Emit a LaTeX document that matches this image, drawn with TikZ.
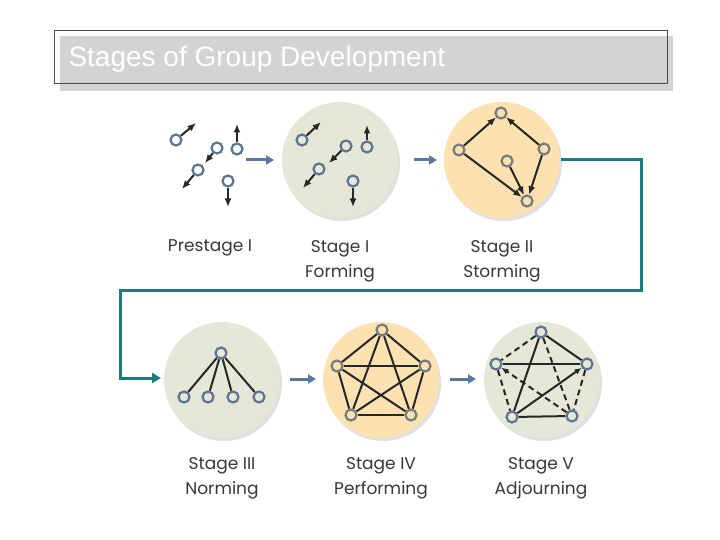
\documentclass[tikz,border=0pt]{standalone}
\usepackage{fontspec}
\setmainfont{Liberation Sans}
\newfontfamily\stagefont{Poppins}
\usepackage{tikz}
\usetikzlibrary{arrows.meta}
\definecolor{sage}{HTML}{E7E7D7}
\definecolor{peach}{HTML}{FCE2B0}
\definecolor{dotblue}{HTML}{5D7592}
\definecolor{dotgray}{HTML}{767B7E}
\definecolor{flowblue}{HTML}{5878A2}
\definecolor{teal}{HTML}{1E7B7C}
\definecolor{titlegray}{HTML}{D3D3D3}

\begin{document}
\begin{tikzpicture}[x=1pt,y=-1pt,
  member/.style={circle,draw=dotblue,line width=2.2pt,fill=white,minimum size=11pt,inner sep=0pt},
  grey member/.style={member,draw=dotgray},
  move/.style={line width=2pt,black!85,-{Latex[length=8.5pt,width=7pt]}},
  tie/.style={line width=2pt,black!85},
  loose/.style={tie,dash pattern=on 6pt off 4pt},
  flow/.style={line width=3pt,flowblue,-{Triangle[length=8pt,width=9pt]}},
  stagelabel/.style={align=center,font=\stagefont\fontsize{17}{25}\selectfont,text=black!78}]
\useasboundingbox (0,0) rectangle (720,540);
\fill [titlegray] (60,36) rectangle (673,91);
\draw [black!70,line width=1pt] (54,31) rectangle (667,84);
\node [anchor=base west,text=white,font=\fontsize{28}{30}\selectfont] (title) at (65,67) {Stages of Group Development};

\fill [black,opacity=0.12] (342,163) circle (58pt);
\fill [black,opacity=0.12] (504,163) circle (58pt);
\fill [black,opacity=0.12] (224,383) circle (58pt);
\fill [black,opacity=0.12] (383,383) circle (58pt);
\fill [black,opacity=0.12] (544,383) circle (58pt);
\fill [sage] (340,160) circle (58pt);
\fill [peach] (502,160) circle (58pt);
\fill [sage] (222,380) circle (58pt);
\fill [peach] (381,380) circle (58pt);
\fill [sage] (542,380) circle (58pt);

\node [member] (a1) at (176,140) {};
\node [member] (a2) at (217,148) {};
\node [member] (a3) at (198,170) {};
\node [member] (a4) at (237,149) {};
\node [member] (a5) at (228,181) {};
\coordinate (a1e) at (196,123);
\coordinate (a2e) at (205,163);
\coordinate (a3e) at (182,189);
\coordinate (a4e) at (237,124);
\coordinate (a5e) at (228,207);
\draw [move] (a1) -- (a1e);
\draw [move] (a2) -- (a2e);
\draw [move] (a3) -- (a3e);
\draw [move] (a4) -- (a4e);
\draw [move] (a5) -- (a5e);

\node [member,fill=sage] (b1) at (302,140) {};
\node [member,fill=sage] (b2) at (346,146) {};
\node [member,fill=sage] (b3) at (319,169) {};
\node [member,fill=sage] (b4) at (367,147) {};
\node [member,fill=sage] (b5) at (353,181) {};
\coordinate (b1e) at (321,122);
\coordinate (b2e) at (329,163);
\coordinate (b3e) at (303,188);
\coordinate (b4e) at (367,125);
\coordinate (b5e) at (353,207);
\draw [move] (b1) -- (b1e);
\draw [move] (b2) -- (b2e);
\draw [move] (b3) -- (b3e);
\draw [move] (b4) -- (b4e);
\draw [move] (b5) -- (b5e);

\node [grey member,fill=peach] (ct) at (501,113) {};
\node [grey member,fill=peach] (cl) at (459,150) {};
\node [grey member,fill=peach] (cr) at (544,149) {};
\node [grey member,fill=peach] (cm) at (507,161) {};
\node [grey member,fill=peach] (cb) at (527,201) {};
\draw [move] (cl) -- (ct);
\draw [move] (cr) -- (ct);
\draw [move] (cl) -- (cb);
\draw [move] (cm) -- (cb);
\draw [move] (cr) -- (cb);

\node [member,fill=sage] (dt) at (221,353) {};
\node [member,fill=sage] (d1) at (184,397) {};
\node [member,fill=sage] (d2) at (208,397) {};
\node [member,fill=sage] (d3) at (233,397) {};
\node [member,fill=sage] (d4) at (259,397) {};
\draw [tie] (dt) -- (d1);
\draw [tie] (dt) -- (d2);
\draw [tie] (dt) -- (d3);
\draw [tie] (dt) -- (d4);

\node [grey member,fill=peach] (et) at (382,330) {};
\node [grey member,fill=peach] (el) at (337,366) {};
\node [grey member,fill=peach] (er) at (425,366) {};
\node [grey member,fill=peach] (ebl) at (351,415) {};
\node [grey member,fill=peach] (ebr) at (411,415) {};
\draw [tie] (et) -- (el);
\draw [tie] (et) -- (er);
\draw [tie] (et) -- (ebl);
\draw [tie] (et) -- (ebr);
\draw [tie] (el) -- (er);
\draw [tie] (el) -- (ebl);
\draw [tie] (el) -- (ebr);
\draw [tie] (er) -- (ebl);
\draw [tie] (er) -- (ebr);
\draw [tie] (ebl) -- (ebr);

\node [member,fill=sage] (ft) at (541,332) {};
\node [member,fill=sage] (fl) at (496,364) {};
\node [member,fill=sage] (fr) at (587,364) {};
\node [member,fill=sage] (fbl) at (512,417) {};
\node [member,fill=sage] (fbr) at (572,416) {};
\draw [loose] (ft) -- (fl);
\draw [tie] (ft) -- (fr);
\draw [tie] (ft) -- (fbl);
\draw [loose] (ft) -- (fbr);
\draw [tie] (fl) -- (fr);
\draw [loose] (fl) -- (fbl);
\draw [loose,-{Latex[length=7pt,width=6pt]}] (fbr) -- (fl);
\draw [tie,-{Latex[length=7pt,width=6pt]}] (fbl) -- (fr);
\draw [loose] (fr) -- (fbr);
\draw [tie] (fbl) -- (fbr);

\coordinate (f1s) at (246,160);
\coordinate (f1e) at (274,160);
\coordinate (f2s) at (414,160);
\coordinate (f2e) at (437,160);
\coordinate (f3s) at (290,379);
\coordinate (f3e) at (316,379);
\coordinate (f4s) at (450,379);
\coordinate (f4e) at (476,379);
\draw [flow] (f1s) -- (f1e);
\draw [flow] (f2s) -- (f2e);
\draw [flow] (f3s) -- (f3e);
\draw [flow] (f4s) -- (f4e);

\coordinate (wrapA) at (561,160);
\coordinate (wrapB) at (161,378);
\draw [teal,line width=3pt,-{Triangle[length=9pt,width=10pt]}] (wrapA) -- (641,160) -- (641,290) -- (120,290) -- (120,378) -- (wrapB);

\node [stagelabel] (l0) at (210,248) {Prestage I};
\node [stagelabel] (l1) at (340,261) {Stage I\\Forming};
\node [stagelabel] (l2) at (502,261) {Stage II\\Storming};
\node [stagelabel] (l3) at (222,478) {Stage III\\Norming};
\node [stagelabel] (l4) at (381,478) {Stage IV\\Performing};
\node [stagelabel] (l5) at (541,478) {Stage V\\Adjourning};
\end{tikzpicture}
\end{document}
